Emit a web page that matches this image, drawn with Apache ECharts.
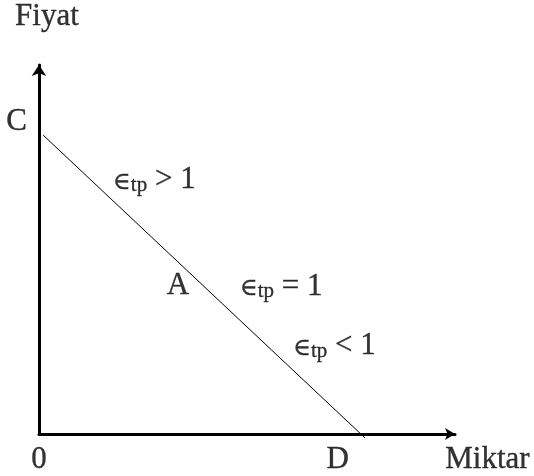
<!DOCTYPE html>
<html>
<head>
<meta charset="utf-8">
<script src="https://cdn.jsdelivr.net/npm/echarts@6/dist/echarts.min.js"></script>
<style>
html,body{margin:0;padding:0;background:#fff;}
#chart{width:534px;height:476px;}
</style>
</head>
<body>
<div id="chart"></div>
<script>
// Demand line (quantity, price) in axis units 0..100
const demandQ = [1.0, 78.4];
const demandP = [81.0, -1.1];

// Text labels: axis titles and point names
const pointLabels = ['C', 'A', '0', 'D', 'Fiyat', 'Miktar'];
const pointQ = [-5.4, 33.4, 0, 71.8, 1.9, 107.8];
const pointP = [84.6, 40.1, -6.9, -7.0, 113.0, -7.0];

// Elasticity annotations (left edge, middle)
const elastSigns = ['>', '=', '<'];
const elastValue = ['1', '1', '1'];
const elastQ = [17.8, 48.3, 61.1];
const elastP = [68.8, 40.0, 23.8];

const FONT = "'Liberation Serif', 'Times New Roman', serif";
const chart = echarts.init(document.getElementById('chart'));

const demandData = demandQ.map((q, i) => [q, demandP[i]]);
const pointData = pointQ.map((q, i) => ({ value: [q, pointP[i]], name: pointLabels[i] }));
const elastData = elastQ.map((q, i) => ({ value: [q, elastP[i]], sign: elastSigns[i], v: elastValue[i] }));

const ink = { color: '#000', textBorderColor: '#000', textBorderWidth: 0.35 };

chart.setOption({
  animation: false,
  backgroundColor: '#fff',
  grid: { left: 39, right: 79, top: 65, bottom: 42 },
  xAxis: {
    type: 'value', min: 0, max: 100,
    axisLine: { show: true, symbol: ['none', 'arrow'], symbolSize: [9, 10], lineStyle: { color: '#000', width: 3 } },
    axisTick: { show: false }, axisLabel: { show: false }, splitLine: { show: false }
  },
  yAxis: {
    type: 'value', min: 0, max: 100,
    axisLine: { show: true, symbol: ['none', 'arrow'], symbolSize: [11, 11], lineStyle: { color: '#000', width: 3 } },
    axisTick: { show: false }, axisLabel: { show: false }, splitLine: { show: false }
  },
  series: [
    {
      type: 'line', data: demandData, clip: false, symbol: 'none',
      lineStyle: { color: '#000', width: 1 }, z: 1
    },
    {
      type: 'scatter', data: pointData, clip: false, symbolSize: 0, silent: true,
      label: Object.assign({
        show: true, position: 'inside', formatter: p => p.name,
        fontFamily: FONT, fontSize: 31, align: 'center', verticalAlign: 'middle'
      }, ink)
    },
    {
      type: 'scatter', data: elastData, clip: false, symbolSize: 0, silent: true,
      label: {
        show: true, position: 'inside', align: 'left', verticalAlign: 'middle',
        formatter: p => '{e|\u2208}{s|tp}{m| ' + p.data.sign + ' ' + p.data.v + '}',
        rich: {
          e: Object.assign({ fontFamily: "'DejaVu Serif', serif", fontSize: 24, lineHeight: 31, verticalAlign: 'bottom', padding: [0, 0, 1, 0] }, ink),
          s: Object.assign({ fontFamily: FONT, fontSize: 21, lineHeight: 21, verticalAlign: 'bottom' }, ink),
          m: Object.assign({ fontFamily: FONT, fontSize: 31, lineHeight: 31, verticalAlign: 'bottom' }, ink)
        }
      }
    }
  ]
});
</script>
</body>
</html>
